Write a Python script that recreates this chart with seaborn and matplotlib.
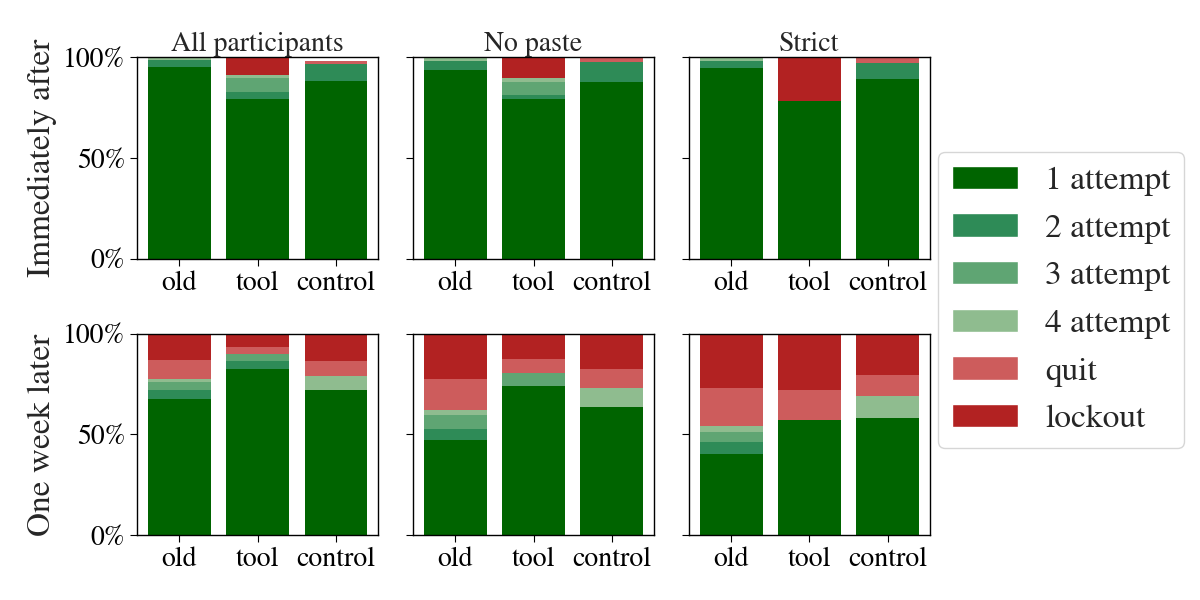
import matplotlib
matplotlib.use("Agg")
import matplotlib.pyplot as plt
from matplotlib.patches import Patch
import seaborn as sns

groups = ["old", "tool", "control"]
categories = ["1 attempt", "2 attempt", "3 attempt", "4 attempt", "quit", "lockout"]
colors = ["#006400", "#2E8B57", "#5FA573", "#8FBC8F", "#CD5C5C", "#B22222"]
col_titles = ["All participants", "No paste", "Strict"]
row_titles = ["Immediately after", "One week later"]

# rows = categories, columns = old / tool / control (percent)
imm_all = [[95.0, 79.3, 88.3], [3.7, 3.5, 8.4], [0.0, 7.0, 0.0],
           [1.3, 1.5, 0.0], [0.0, 0.0, 1.5], [0.0, 8.8, 0.0]]
imm_nopaste = [[93.7, 79.3, 87.8], [4.5, 2.0, 9.9], [0.0, 6.5, 0.0],
               [1.8, 2.0, 0.0], [0.0, 0.0, 2.3], [0.0, 10.2, 0.0]]
imm_strict = [[94.9, 78.3, 89.3], [3.3, 0.0, 7.9], [0.0, 0.0, 0.0],
              [1.8, 0.0, 0.0], [0.0, 0.0, 2.8], [0.0, 21.7, 0.0]]
week_all = [[67.3, 82.2, 71.8], [4.5, 4.0, 0.0], [4.0, 3.5, 0.0],
            [1.5, 0.0, 7.0], [9.5, 3.5, 7.5], [13.2, 6.8, 13.7]]
week_nopaste = [[47.3, 73.8, 63.8], [5.5, 0.0, 0.0], [7.0, 6.5, 0.0],
                [2.5, 0.0, 9.0], [15.4, 7.0, 9.5], [22.3, 12.7, 17.7]]
week_strict = [[40.4, 57.3, 58.3], [6.0, 0.0, 0.0], [5.0, 0.0, 0.0],
               [2.5, 0.0, 10.5], [18.9, 14.5, 10.5], [27.2, 28.2, 20.7]]

panels = [[imm_all, imm_nopaste, imm_strict],
          [week_all, week_nopaste, week_strict]]

sns.set_style("ticks")
plt.rcParams["font.family"] = ["STIXGeneral", "Liberation Serif", "DejaVu Serif"]
plt.rcParams["mathtext.fontset"] = "stix"

fig, axes = plt.subplots(2, 3, figsize=(12, 6), dpi=100, sharey=True)
fig.subplots_adjust(left=0.1142, right=0.775, top=0.9045, bottom=0.1083,
                    wspace=0.145, hspace=0.372)

for r in range(2):
    for c in range(3):
        ax = axes[r][c]
        data = panels[r][c]
        # cumulative tops, drawn tallest first so lower layers cover them
        cum = []
        running = [0.0, 0.0, 0.0]
        for layer in data:
            running = [a + b for a, b in zip(running, layer)]
            cum.append(running)
        for k in reversed(range(len(categories))):
            sns.barplot(x=groups, y=cum[k], color=colors[k], saturation=1,
                        width=0.8, linewidth=0, ax=ax)
        ax.set_xlim(-0.54, 2.54)
        ax.set_ylim(0, 100)
        ax.set_yticks([0, 50, 100])
        ax.set_yticklabels(["0%", "50%", "100%"])
        ax.tick_params(labelsize=20, length=5, colors="black")
        for s in ax.spines.values():
            s.set_color("black")
            s.set_linewidth(1.0)
        ax.set_xlabel("")
        if c == 0:
            ax.set_ylabel(row_titles[r], fontsize=24)
        else:
            ax.set_ylabel("")
        if r == 0:
            ax.set_title(col_titles[c], fontsize=20, pad=4)

handles = [Patch(facecolor=col, label=lab) for col, lab in zip(colors, categories)]
fig.legend(handles=handles, loc="center left", bbox_to_anchor=(0.782, 0.5),
           fontsize=24, frameon=True, handlelength=2.0, handleheight=0.7,
           labelspacing=0.52, borderpad=0.4, borderaxespad=0)

fig.savefig("out.png", dpi=100)
